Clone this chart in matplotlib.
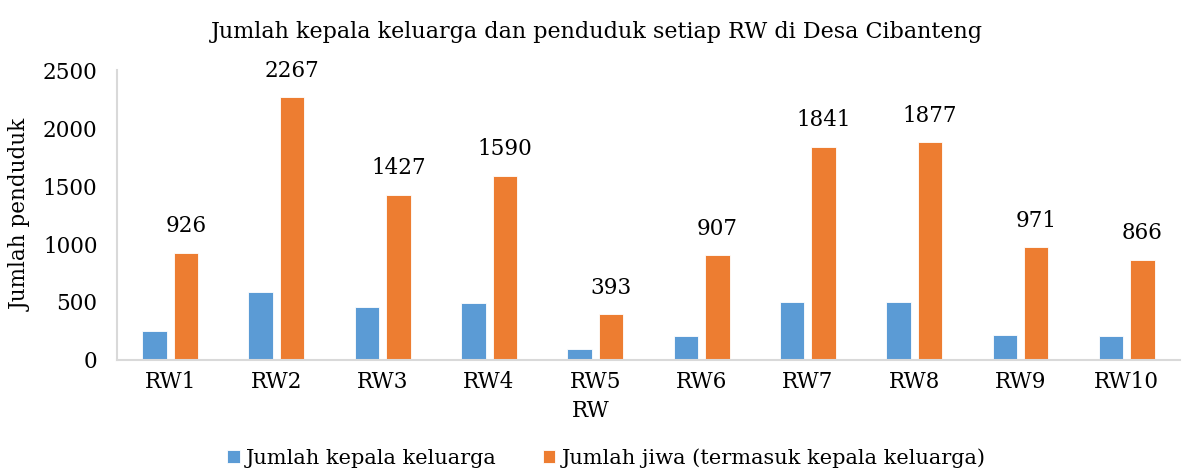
import matplotlib.pyplot as plt
import numpy as np

plt.rcParams['font.family'] = ['DejaVu Serif']

rw = ['RW1', 'RW2', 'RW3', 'RW4', 'RW5', 'RW6', 'RW7', 'RW8', 'RW9', 'RW10']
kepala_keluarga = [250, 589, 460, 489, 92, 207, 498, 498, 218, 207]
jumlah_jiwa = [926, 2267, 1427, 1590, 393, 907, 1841, 1877, 971, 866]

blue = '#5B9BD5'
orange = '#ED7D31'

fig = plt.figure(figsize=(11.89, 4.68), dpi=100)
ax = fig.add_axes([0.0984, 0.231, 0.894, 0.619])

x = np.arange(len(rw))
w = 0.23
b1 = ax.bar(x - w / 2 - 0.033, kepala_keluarga, w, color=blue, edgecolor='white', linewidth=0.6,
            label='Jumlah kepala keluarga')
b2 = ax.bar(x + w / 2 + 0.033, jumlah_jiwa, w, color=orange, edgecolor='white', linewidth=0.6,
            label='Jumlah jiwa (termasuk kepala keluarga)')

for xi, v in zip(x, jumlah_jiwa):
	ax.annotate(str(v), (xi + w / 2 + 0.033, v), xytext=(0, 11), textcoords='offset points',
	            ha='center', va='bottom', fontsize=15.5)

ax.set_xlim(-0.5, len(rw) - 0.5)
ax.set_ylim(0, 2500)
ax.set_yticks([0, 500, 1000, 1500, 2000, 2500])
ax.set_xticks(x)
ax.set_xticklabels(rw)
ax.tick_params(axis='both', length=0, labelsize=15.5)
ax.tick_params(axis='x', pad=8)
ax.tick_params(axis='y', pad=14)

for s in ['top', 'right']:
	ax.spines[s].set_visible(False)
for s in ['left', 'bottom']:
	ax.spines[s].set_color('#D9D9D9')
	ax.spines[s].set_linewidth(1.5)

ax.set_ylabel('Jumlah penduduk', fontsize=15.5, labelpad=8)
fig.text(0.497, 0.122, 'RW', ha='center', va='center', fontsize=15.5)
fig.suptitle('Jumlah kepala keluarga dan penduduk setiap RW di Desa Cibanteng', x=0.502, y=0.955,
             fontsize=16)

fig.legend(handles=[b1, b2], loc='center', bbox_to_anchor=(0.51, 0.022), ncol=2, frameon=False,
           fontsize=15, handlelength=0.6, handleheight=0.6, handletextpad=0.3, columnspacing=2.2,
           borderaxespad=0)

plt.savefig('out.png', dpi=100)
